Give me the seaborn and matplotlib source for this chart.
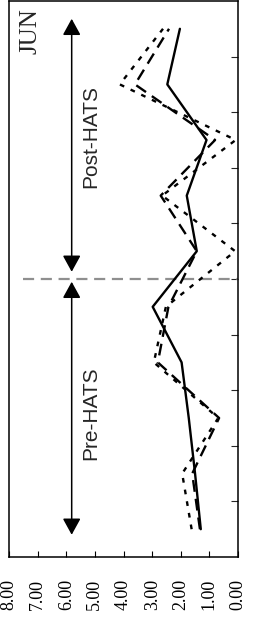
import matplotlib
matplotlib.use("Agg")
import matplotlib.pyplot as plt
import numpy as np
import pandas as pd
import seaborn as sns

# periods along the (rotated) time axis, bottom -> top
periods = list(range(1, 11))
series_solid = [1.30, 1.50, 1.72, 1.97, 2.98, 1.44, 1.79, 1.10, 2.47, 2.03]
series_dash = [1.33, 1.60, 0.66, 2.80, 2.43, 1.44, 2.70, 0.80, 3.60, 2.41]
series_dot = [1.62, 1.95, 0.69, 2.94, 2.52, 0.10, 2.65, 0.08, 4.13, 2.62]
value_ticks = [0, 1, 2, 3, 4, 5, 6, 7, 8]
month_label = "JUN"
phase_labels = ["Pre-HATS", "Post-HATS"]
hats_break = 5.5

df = pd.DataFrame({
    "period": periods * 3,
    "value": series_solid + series_dash + series_dot,
    "series": ["solid"] * 10 + ["dash"] * 10 + ["dot"] * 10,
})

sns.set_theme(style="white")
plt.rcParams["font.family"] = ["Liberation Sans", "DejaVu Sans"]

fig = plt.figure(figsize=(2.54, 6.23), dpi=100)
ax = fig.add_axes([9 / 254, 1 - 557 / 623, 229 / 254, 556 / 623])

sns.lineplot(
    data=df, x="value", y="period", style="series", orient="y", sort=False,
    estimator=None, color="black", linewidth=1.7, legend=False,
    dashes={"solid": "", "dash": (5, 3), "dot": (2, 3)}, ax=ax,
)

ax.set_xlim(8, 0)
ax.set_ylim(0.5, 10.5)
ax.set_xlabel("")
ax.set_ylabel("")

ax.set_xticks(value_ticks)
ax.set_xticklabels([f"{v:.2f}" for v in value_ticks], rotation=90,
                   family=["Liberation Serif", "DejaVu Serif"], fontsize=13)
ax.set_yticks(np.arange(1.5, 10.5, 1.0))
ax.yaxis.tick_right()
ax.tick_params(axis="y", direction="in", length=5, width=0.8, labelright=False,
               right=True, left=False)
ax.tick_params(axis="x", direction="in", length=4.5, width=0.8, pad=16,
               bottom=True, colors="black")
for sp in ax.spines.values():
    sp.set_color("black")
    sp.set_linewidth(1.1)

# separation between pre and post periods
ax.plot([7.5, 0], [hats_break, hats_break], color="#8f8f8f", linewidth=1.6,
        dashes=(5, 3), zorder=1)

arrow = dict(arrowstyle="<|-|>,head_length=1.0,head_width=0.55", color="black",
             linewidth=1.1, shrinkA=0, shrinkB=0, mutation_scale=10)
ax.annotate("", xy=(5.81, 0.90), xytext=(5.81, 5.45), arrowprops=arrow)
ax.annotate("", xy=(5.81, 5.63), xytext=(5.81, 10.18), arrowprops=arrow)
ax.text(5.14, 3.09, phase_labels[0], rotation=90, ha="center", va="center",
        fontsize=15)
ax.text(5.14, 8.07, phase_labels[1], rotation=90, ha="center", va="center",
        fontsize=15)

ax.text(7.24, 10.37, month_label, rotation=90, ha="center", va="top",
        family=["Liberation Serif", "DejaVu Serif"], fontsize=18)

fig.savefig("out.png", dpi=100)
plt.close(fig)
